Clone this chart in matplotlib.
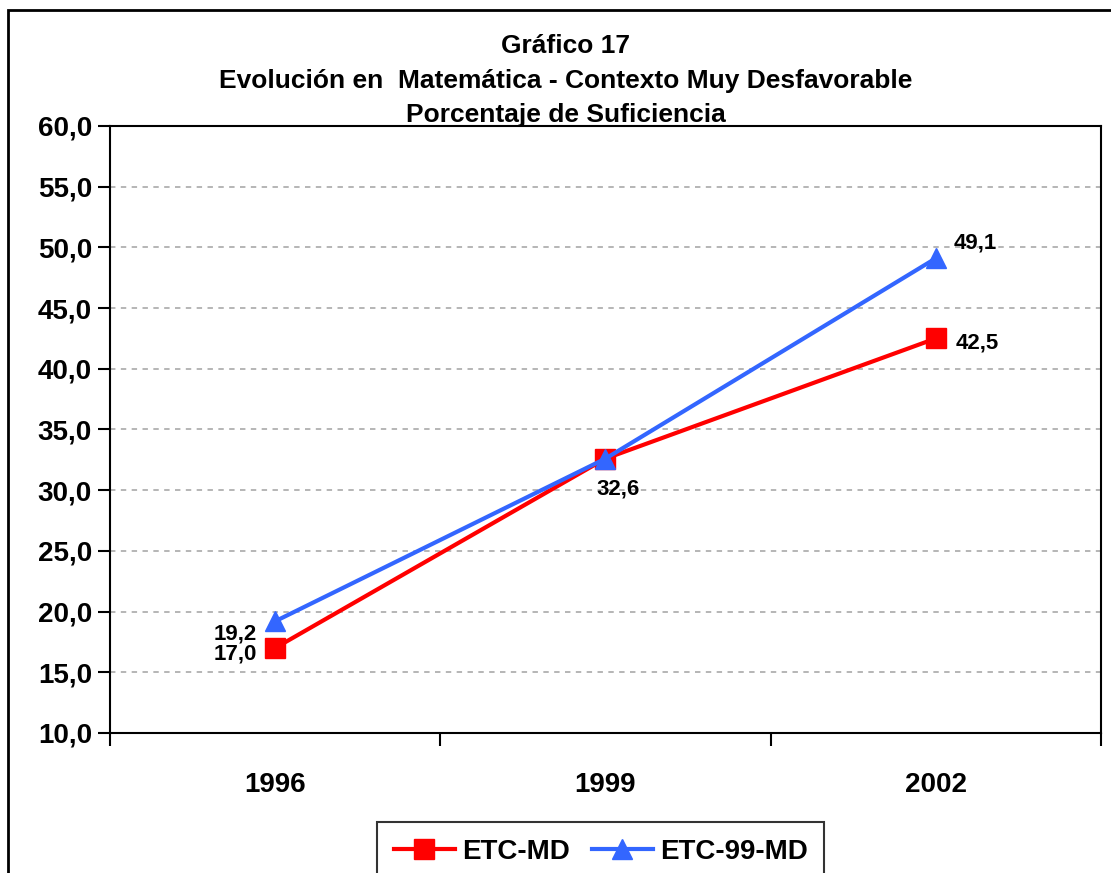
import matplotlib
matplotlib.use('Agg')
import matplotlib.pyplot as plt
from matplotlib.patches import Rectangle
from matplotlib.ticker import FuncFormatter, FixedLocator

plt.rcParams['font.family'] = ['Liberation Sans', 'DejaVu Sans']

# ── Data ──────────────────────────────────────
YEARS    = ['1996', '1999', '2002']
ETC_MD   = [17.0, 32.6, 42.5]
ETC_99   = [19.2, 32.6, 49.1]

TITLE_LINES = ['Gráfico 17',
               'Evolución en  Matemática - Contexto Muy Desfavorable',
               'Porcentaje de Suficiencia']

RED  = '#ff0000'
BLUE = '#3366ff'

fig = plt.figure(figsize=(11.11, 8.73), dpi=100)
ax = fig.add_axes([0.099, 0.1604, 0.892, 0.6953])

x = list(range(len(YEARS)))
ax.plot(x, ETC_MD, color=RED, lw=3, marker='s', ms=15, label='ETC-MD', zorder=3)
ax.plot(x, ETC_99, color=BLUE, lw=3, marker='^', ms=15, label='ETC-99-MD', zorder=4)

ax.set_xlim(-0.5, 2.5)
ax.set_ylim(10, 60)
ax.set_yticks(range(10, 61, 5))
ax.yaxis.set_major_formatter(FuncFormatter(lambda v, p: f'{v:.1f}'.replace('.', ',')))
ax.yaxis.grid(True, color='#b0b0b0', ls=(0, (3, 3)), lw=1.3)
ax.set_axisbelow(True)

# category labels centred, ticks at the boundaries
ax.xaxis.set_major_locator(FixedLocator([-0.5, 0.5, 1.5, 2.5]))
ax.xaxis.set_major_formatter(FuncFormatter(lambda v, p: ''))
ax.set_xticks(x, minor=True)
ax.set_xticklabels(YEARS, minor=True)
ax.tick_params(axis='x', which='minor', length=0, pad=28, labelsize=20)
ax.tick_params(axis='x', which='major', direction='out', length=9, width=1.5)
ax.tick_params(axis='y', direction='out', length=9, width=1.5, labelsize=20, pad=4)
for lbl in ax.get_xticklabels(minor=True) + ax.get_yticklabels():
    lbl.set_fontweight('bold')

for s in ax.spines.values():
    s.set_linewidth(1.5)

# value labels
def fmt(v):
    return f'{v:.1f}'.replace('.', ',')

lab = dict(textcoords='offset points', va='center', fontsize=16, fontweight='bold')
ax.annotate(fmt(ETC_99[0]), (x[0], ETC_99[0]), xytext=(-13, -9), ha='right', **lab)
ax.annotate(fmt(ETC_MD[0]), (x[0], ETC_MD[0]), xytext=(-13, -4), ha='right', **lab)
ax.annotate(fmt(ETC_MD[1]), (x[1], ETC_MD[1]), xytext=(9, -22), ha='center', **lab)
ax.annotate(fmt(ETC_99[2]), (x[2], ETC_99[2]), xytext=(13, 11), ha='left', **lab)
ax.annotate(fmt(ETC_MD[2]), (x[2], ETC_MD[2]), xytext=(14, -3), ha='left', **lab)

for line, ypx in zip(TITLE_LINES, [46, 81, 115]):
    fig.text(0.509, 1 - ypx / 873, line, ha='center', va='center',
             fontsize=19, fontweight='bold')

leg = fig.legend(loc='upper center', bbox_to_anchor=(0.5405, 0.0584), ncol=2,
                 frameon=True, fancybox=False, edgecolor='black', borderaxespad=0,
                 handlelength=2.2, handletextpad=0.25, columnspacing=0.8,
                 borderpad=0.6, prop={'weight': 'bold', 'size': 20})
leg.get_frame().set_linewidth(1.5)

# outer chart border
fig.patches.append(Rectangle((8 / 1111, -0.1), 1.2, 1 - 10 / 873 + 0.1,
                             transform=fig.transFigure, fill=False,
                             edgecolor='black', lw=2))

fig.savefig('out.png', dpi=100)
